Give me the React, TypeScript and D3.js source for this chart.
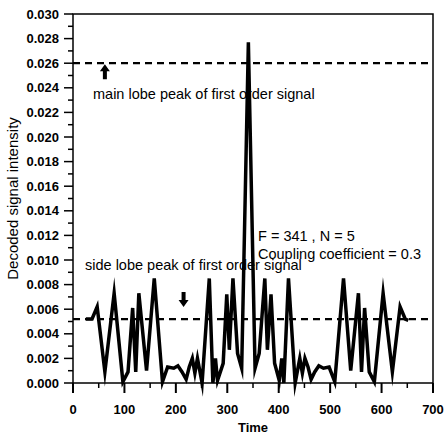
import React from "react";
import * as d3 from "d3";

const times = [25, 37, 47, 62, 80, 97, 107, 116, 122, 128, 143, 158, 174, 184, 196, 204, 212, 220, 226, 232, 237, 242, 251, 265, 272, 277, 281, 292, 299, 304, 311, 320, 328, 341, 354, 362, 373, 378, 385, 392, 401, 406, 410, 419, 432, 441, 446, 451, 457, 463, 470, 478, 487, 498, 509, 526, 540, 555, 561, 567, 576, 586, 603, 621, 636, 646, 652];
const values = [0.0052, 0.0052, 0.0062, 0.0009, 0.0073, 0.0001, 0.0009, 0.0061, 0.0009, 0.0073, 0.0010, 0.0085, 0.0001, 0.0013, 0.0012, 0.0014, 0.0009, 0.0003, 0.0013, 0.0020, 0.0008, 0.0020, 0.0000, 0.0085, 0.0000, 0.0020, 0.0002, 0.0016, 0.0072, 0.0027, 0.0085, 0.0024, 0.0012, 0.0277, 0.0012, 0.0024, 0.0085, 0.0027, 0.0072, 0.0016, 0.0002, 0.0020, 0.0000, 0.0085, 0.0000, 0.0020, 0.0008, 0.0020, 0.0013, 0.0003, 0.0009, 0.0014, 0.0012, 0.0013, 0.0001, 0.0085, 0.0010, 0.0073, 0.0009, 0.0061, 0.0009, 0.0001, 0.0073, 0.0009, 0.0062, 0.0052, 0.0051];
const mainLobeLevel = 0.026;
const sideLobeLevel = 0.0052;
const xTicks = [0, 100, 200, 300, 400, 500, 600, 700];
const xMinor = [50, 150, 250, 350, 450, 550, 650];
const yTicks = [0, 0.002, 0.004, 0.006, 0.008, 0.01, 0.012, 0.014, 0.016, 0.018, 0.02, 0.022, 0.024, 0.026, 0.028, 0.03];
const yMinor = [0.001, 0.003, 0.005, 0.007, 0.009, 0.011, 0.013, 0.015, 0.017, 0.019, 0.021, 0.023, 0.025, 0.027, 0.029];

export default function App() {
  const W = 447, H = 435;
  const x0 = 73, x1 = 433, y0 = 383, y1 = 14;
  const x = d3.scaleLinear().domain([0, 700]).range([x0, x1]);
  const y = d3.scaleLinear().domain([0, 0.03]).range([y0, y1]);
  const pts = times.map((t, i) => [t, values[i]] as [number, number]);
  const line = d3.line<[number, number]>().x(d => x(d[0])).y(d => y(d[1]));
  const font = "'Liberation Sans', Arial, sans-serif";
  return (
    <svg width={W} height={H} style={{ position: "absolute", left: 0, top: 0, background: "#fff" }} fontFamily={font}>
      <rect x={0} y={0} width={W} height={H} fill="#fff" />
      {/* dashed reference lines */}
      <line x1={x0} x2={x1} y1={y(mainLobeLevel)} y2={y(mainLobeLevel)} stroke="#000" strokeWidth={2.2} strokeDasharray="7,5" />
      <line x1={x0} x2={x1} y1={y(sideLobeLevel)} y2={y(sideLobeLevel)} stroke="#000" strokeWidth={2.2} strokeDasharray="7,5" />
      {/* signal */}
      <path d={line(pts) || ""} fill="none" stroke="#000" strokeWidth={3.5} strokeLinejoin="miter" strokeMiterlimit={10} />
      {/* frame */}
      <rect x={x0} y={y1} width={x1 - x0} height={y0 - y1} fill="none" stroke="#000" strokeWidth={1.5} />
      {/* y ticks */}
      {yTicks.map(v => (
        <g key={"y" + v}>
          <line x1={x0 - 9} x2={x0} y1={y(v)} y2={y(v)} stroke="#000" strokeWidth={1.5} />
          <text x={x0 - 14} y={y(v)} dy="0.35em" textAnchor="end" fontSize={13} fontWeight="bold">{v.toFixed(3)}</text>
        </g>
      ))}
      {yMinor.map(v => (
        <line key={"ym" + v} x1={x0 - 5} x2={x0} y1={y(v)} y2={y(v)} stroke="#000" strokeWidth={1.5} />
      ))}
      {/* x ticks */}
      {xTicks.map(t => (
        <g key={"x" + t}>
          <line x1={x(t)} x2={x(t)} y1={y0} y2={y0 + 10} stroke="#000" strokeWidth={2} />
          <text x={x(t)} y={y0 + 31} textAnchor="middle" fontSize={13} fontWeight="bold">{t}</text>
        </g>
      ))}
      {xMinor.map(t => (
        <line key={"xm" + t} x1={x(t)} x2={x(t)} y1={y0} y2={y0 + 5} stroke="#000" strokeWidth={1.5} />
      ))}
      <text x={x(350)} y={432} textAnchor="middle" fontSize={13} fontWeight="bold">Time</text>
      <text transform={`translate(18,${(y0 + y1) / 2}) rotate(-90)`} textAnchor="middle" fontSize={15}>Decoded signal intensity</text>
      {/* annotations */}
      <path d={`M${x(62)},${y(0.026) + 1} l-5,7 h3 v8 h4 v-8 h3 z`} fill="#000" />
      <text x={93} y={99} fontSize={14.5}>main lobe peak of first order signal</text>
      <text x={85} y={270} fontSize={14.5}>side lobe peak of first order signal</text>
      <path d={`M${x(215)},307 l-5,-7 h3 v-8 h4 v8 h3 z`} fill="#000" />
      <text x={258} y={241} fontSize={14.5}>F = 341 ,  N = 5</text>
      <text x={258} y={259} fontSize={14.5}>Coupling coefficient = 0.3</text>
    </svg>
  );
}
